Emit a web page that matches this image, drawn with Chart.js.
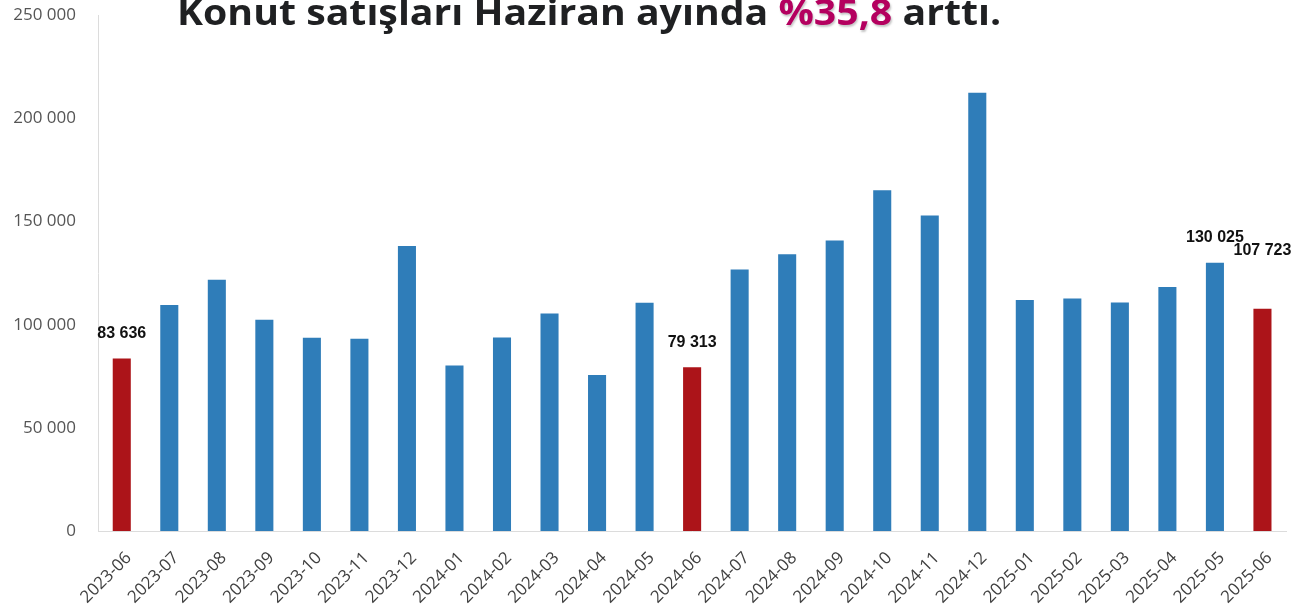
<!DOCTYPE html>
<html>
<head>
<meta charset="utf-8">
<script src="https://cdn.jsdelivr.net/npm/chart.js@4"></script>
<style>
  html, body { margin: 0; padding: 0; background: #fff; }
  #wrap { position: relative; width: 1294px; height: 616px; overflow: hidden; }
  #c { position: absolute; left: 0; top: -17px; }
  #title {
    position: absolute; left: 177px; top: -6px; margin: 0;
    font: 700 36px "Open Sans", sans-serif; line-height: 36px; color: #1f2022;
    white-space: nowrap; z-index: 2;
    transform: scaleX(1.09); transform-origin: 0 0;
  }
  #title span { color: #b4005f; text-shadow: 1px 2px 2px rgba(90, 90, 90, 0.35); }
</style>
</head>
<body>
<div id="wrap">
  <h1 id="title">Konut satışları Haziran ayında <span>%35,8</span> arttı.</h1>
  <canvas id="c" width="1294" height="633"></canvas>
</div>
<script>
// ── Data ──────────────────────────────────────────────────────────────────────
const months = [
  '2023-06', '2023-07', '2023-08', '2023-09', '2023-10', '2023-11', '2023-12',
  '2024-01', '2024-02', '2024-03', '2024-04', '2024-05', '2024-06', '2024-07',
  '2024-08', '2024-09', '2024-10', '2024-11', '2024-12', '2025-01', '2025-02',
  '2025-03', '2025-04', '2025-05', '2025-06'
]
const sales = [
  83636, 109500, 121800, 102400, 93700, 93200, 138100,
  80200, 93800, 105400, 75600, 110600, 79313, 126800,
  134100, 140800, 165200, 152900, 212400, 112000, 112700,
  110800, 118300, 130025, 107723
]
const juneMonths = ['2023-06', '2024-06', '2025-06']
const labelledMonths = ['2023-06', '2024-06', '2025-05', '2025-06']
const yTicks = [0, 50000, 100000, 150000, 200000, 250000]

// ── Colors ────────────────────────────────────────────────────────────────────
const BLUE = '#2f7db9'
const RED = '#ac1419'

function fmt(v) { return String(v).replace(/\B(?=(\d{3})+(?!\d))/g, ' ') }

// value labels drawn above selected bars
const valueLabels = {
  id: 'valueLabels',
  afterDatasetsDraw(chart) {
    const { ctx } = chart
    const meta = chart.getDatasetMeta(0)
    ctx.save()
    ctx.font = 'bold 16px "Liberation Sans", Arial, sans-serif'
    ctx.fillStyle = '#111'
    ctx.textAlign = 'center'
    ctx.textBaseline = 'middle'
    months.forEach((m, i) => {
      if (!labelledMonths.includes(m)) return
      const bar = meta.data[i]
      const lift = i === months.length - 1 ? 58 : 25
      ctx.fillText(fmt(sales[i]), bar.x, bar.y - lift)
    })
    ctx.restore()
  }
}

new Chart(document.getElementById('c'), {
  type: 'bar',
  data: {
    labels: months,
    datasets: [{
      data: sales,
      backgroundColor: months.map(m => juneMonths.includes(m) ? RED : BLUE),
      barPercentage: 0.38,
      categoryPercentage: 1
    }]
  },
  options: {
    responsive: false,
    animation: false,
    layout: { padding: { top: 0, right: 6, left: 0, bottom: 0 } },
    plugins: { legend: { display: false }, title: { display: false }, tooltip: { enabled: false } },
    scales: {
      y: {
        min: 0, max: 250000,
        afterBuildTicks: s => { s.ticks = yTicks.map(v => ({ value: v })) },
        afterFit: s => { s.width = 98 },
        grid: { display: false, drawTicks: false },
        border: { color: '#dcdcdc', width: 1 },
        ticks: {
          padding: 22,
          color: '#555',
          font: { family: '"Open Sans", sans-serif', size: 17 },
          callback: v => fmt(v)
        }
      },
      x: {
        afterFit: s => { s.height = 85 },
        grid: { display: false, drawTicks: false },
        border: { color: '#dcdcdc', width: 1 },
        ticks: {
          minRotation: 45, maxRotation: 45,
          padding: 17,
          labelOffset: 7,
          color: '#404040',
          font: { family: '"Open Sans", sans-serif', size: 17 }
        }
      }
    }
  },
  plugins: [valueLabels]
})
</script>
</body>
</html>
